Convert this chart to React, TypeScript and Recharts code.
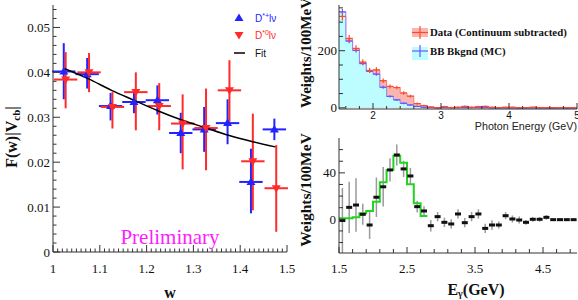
import React from 'react';
import { ComposedChart, XAxis, YAxis, Scatter, ErrorBar, Line, Area } from 'recharts';

const SERIF = '"Liberation Serif", "Times New Roman", serif';
const SANS = '"Liberation Sans", Arial, sans-serif';
const FRAME = '#333';

// ---------- left panel: F(w)|Vcb| vs w ----------
const W_CENTERS = [1.025, 1.075, 1.125, 1.175, 1.225, 1.275, 1.325, 1.375, 1.425, 1.475];
const DPLUS = [0.0402, 0.0396, 0.0325, 0.0334, 0.0338, 0.0265, 0.0273, 0.0287, 0.0156, 0.0273];
const DPLUS_UP = [0.0063, 0.0036, 0.0029, 0.0021, 0.0033, 0.0045, 0.005, 0.0053, 0.0074, 0.0024];
const DPLUS_DN = [0.0062, 0.0032, 0.0032, 0.0025, 0.0032, 0.0045, 0.005, 0.0047, 0.007, 0.0024];
const DZERO = [0.0384, 0.04, 0.0323, 0.0356, 0.0325, 0.0286, 0.0276, 0.036, 0.0202, 0.0142];
const DZERO_UP = [0.0061, 0.0043, 0.0033, 0.0044, 0.0051, 0.0065, 0.0088, 0.0067, 0.0106, 0.0096];
const DZERO_DN = [0.0064, 0.0044, 0.0048, 0.0085, 0.0054, 0.0102, 0.0094, 0.007, 0.0109, 0.0097];
const FIT_W = [1.025, 1.075, 1.125, 1.175, 1.225, 1.275, 1.325, 1.375, 1.425, 1.475];
const FIT_F = [0.0408, 0.0386, 0.036, 0.0337, 0.0314, 0.0294, 0.0277, 0.026, 0.0246, 0.0234];
const W_TICKS = [1, 1.1, 1.2, 1.3, 1.4, 1.5];
const W_LABELS = ['1', '1.1', '1.2', '1.3', '1.4', '1.5'];
const F_TICKS = [0, 0.01, 0.02, 0.03, 0.04, 0.05];
const F_LABELS = ['0', '0.01', '0.02', '0.03', '0.04', '0.05'];

// ---------- top right: photon energy spectrum ----------
const E_EDGES = [1.5, 1.6, 1.7, 1.8, 1.9, 2.0, 2.1, 2.2, 2.3, 2.4, 2.5, 2.6, 2.7, 2.8, 2.9, 3.0, 3.1, 3.2, 3.3, 3.4, 3.5, 3.6, 3.7, 3.8, 3.9, 4.0, 4.1, 4.2, 4.3, 4.4, 4.5, 4.6, 4.7, 4.8, 4.9];
const DATA_W = [320, 243, 208, 160, 131, 133, 95, 75, 71, 52, 41, 15, 8, 3, 0, 4, 1, 2, 5, 2, 4, 5, 2, 1, 2, 2, 0, 1, 2, 1, 1, 0, 1, 0, 1];
const DATA_ERR = [14, 12, 11, 10, 9, 9, 8, 7, 6, 6, 5, 4, 3, 3, 3, 3, 3, 3, 3, 3, 3, 3, 2, 2, 2, 2, 2, 2, 2, 2, 2, 2, 2, 2, 2];
const MC_W = [336, 234, 201, 155, 128, 118, 72, 40, 28, 16, 10, 5, 2, 1, 1, 1, 1, 1, 1, 1, 1, 1, 0, 0, 0, 0, 0, 0, 0, 0, 0, 0, 0, 0, 0];
const MC_ERR = [10, 8, 7, 6, 6, 6, 5, 4, 3, 3, 2, 2, 1, 1, 1, 1, 1, 1, 1, 1, 1, 1, 1, 1, 1, 1, 1, 1, 1, 1, 1, 1, 1, 1, 1];
const PE_TICKS = [2, 3, 4, 5];
const PE_LABELS = ['2', '3', '4', '5'];
const WT_TICKS = [0, 200];
const WT_LABELS = ['0', '200'];

// ---------- bottom right: subtracted signal ----------
const SIG = [-1, 10.3, 12.3, 4.3, -4.9, 19, 28, 42.5, 55.4, 43.4, 37.3, 10.9, 7.2, -5.5, 2.3, -2.6, -4, 4.6, -2.9, 2.3, 4.6, -7.8, -4.9, -4.9, 3.1, 0.3, -0.6, -2.6, 0, 0, 1.7, -0.3, -0.3, -0.3, -0.3];
const SIG_ERR = [28, 22, 23, 9, 12, 17, 17, 10, 9, 7, 7, 5, 4, 5, 4, 4, 4, 4, 4, 4, 4, 4, 4, 3, 3, 3, 3, 2, 2, 2, 2, 1, 1, 1, 1];
const SIGMC_EDGES = [1.5, 1.6, 1.7, 1.8, 1.9, 2.0, 2.1, 2.2, 2.3, 2.4, 2.5, 2.6, 2.7, 2.8];
const SIGMC = [1, 1, 1.7, 5.2, 7.2, 15.2, 31.9, 42.5, 54.8, 48.8, 30.2, 13.8, 2.8, 2.8];
const EG_TICKS = [1.5, 2.5, 3.5, 4.5];
const EG_LABELS = ['1.5', '2.5', '3.5', '4.5'];
const SG_TICKS = [0, 40];
const SG_LABELS = ['0', '40'];

function steps(from: number, to: number, step: number) {
  const out: number[] = [];
  for (let v = from; v <= to + step / 2; v += step) out.push(Math.round(v * 1000) / 1000);
  return out;
}

type Side = 'bottom' | 'top' | 'left' | 'right';
type TickOpts = {
  side: Side;
  majors: number[];
  labels?: string[];
  big?: number;
  small?: number;
  gap?: number;
  font?: string;
  size?: number;
};

// draws inward tick marks (long for majors) and labels outside the frame
function tickRenderer(o: TickOpts) {
  const big = o.big ?? 7;
  const small = o.small ?? 3.5;
  const gap = o.gap ?? 4;
  return (p: any) => {
    const v = p.payload.value;
    const x = p.x;
    const y = p.y;
    const i = o.majors.findIndex((m) => Math.abs(m - v) < 1e-9);
    const len = i >= 0 ? big : small;
    let l = { x1: x, y1: y, x2: x, y2: y - len };
    if (o.side === 'top') l = { x1: x, y1: y, x2: x, y2: y + len };
    if (o.side === 'left') l = { x1: x, y1: y, x2: x + len, y2: y };
    if (o.side === 'right') l = { x1: x, y1: y, x2: x - len, y2: y };
    const lab = i >= 0 && o.labels ? o.labels[i] : null;
    return (
      <g>
        <line {...l} stroke={FRAME} strokeWidth={1} />
        {lab && o.side === 'bottom' && (
          <text x={x} y={y + gap} textAnchor="middle" dominantBaseline="central" fontFamily={o.font} fontSize={o.size} fill="#111">
            {lab}
          </text>
        )}
        {lab && o.side === 'left' && (
          <text x={x - gap} y={y} textAnchor="end" dominantBaseline="central" fontFamily={o.font} fontSize={o.size} fill="#111">
            {lab}
          </text>
        )}
      </g>
    );
  };
}

const axisBase = {
  type: 'number' as const,
  interval: 0 as const,
  tickLine: false,
  tickSize: 0,
  tickMargin: 0,
  allowDataOverflow: true,
  axisLine: { stroke: FRAME },
};

const triUp = (color: string) => (p: any) => (
  <polygon points={`${p.cx},${p.cy - 4.5} ${p.cx - 4.5},${p.cy + 3} ${p.cx + 4.5},${p.cy + 3}`} fill={color} />
);
const triDown = (color: string) => (p: any) => (
  <polygon points={`${p.cx - 4.5},${p.cy - 3} ${p.cx + 4.5},${p.cy - 3} ${p.cx},${p.cy + 4.5}`} fill={color} />
);
const noDot = () => <g />;
const dash = (p: any) => <rect x={p.cx - 3} y={p.cy - 1.5} width={6} height={3} fill="#111" />;

const BLUE = '#2323ff';
const RED = '#ff2a2a';

function FormFactorPanel() {
  const blue = W_CENTERS.map((w, i) => ({ x: w - 0.002, y: DPLUS[i], ex: 0.025, ey: [DPLUS_DN[i], DPLUS_UP[i]] }));
  const red = W_CENTERS.map((w, i) => ({ x: w + 0.002, y: DZERO[i], ex: 0.025, ey: [DZERO_DN[i], DZERO_UP[i]] }));
  const fit = FIT_W.map((w, i) => ({ x: w, y: FIT_F[i] }));
  const wAll = steps(1, 1.5, 0.01);
  const fAll = steps(0, 0.054, 0.002);
  return (
    <ComposedChart width={302} height={300} margin={{ top: 5, right: 15, bottom: 18, left: 0 }}>
      <XAxis xAxisId="b" dataKey="x" domain={[1, 1.5]} ticks={wAll} height={30} {...axisBase}
        tick={tickRenderer({ side: 'bottom', majors: W_TICKS, labels: W_LABELS, gap: 16, font: SERIF, size: 13 })} />
      <XAxis xAxisId="t" orientation="top" dataKey="x" domain={[1, 1.5]} ticks={wAll} height={0} {...axisBase}
        tick={tickRenderer({ side: 'top', majors: W_TICKS })} />
      <YAxis yAxisId="l" domain={[0, 0.055]} ticks={fAll} width={53} {...axisBase}
        tick={tickRenderer({ side: 'left', majors: F_TICKS, labels: F_LABELS, gap: 3, font: SERIF, size: 13 })} />
      <YAxis yAxisId="r" orientation="right" domain={[0, 0.055]} ticks={fAll} width={0} {...axisBase}
        tick={tickRenderer({ side: 'right', majors: F_TICKS })} />
      <Scatter xAxisId="b" yAxisId="l" data={blue} dataKey="y" shape={triUp(BLUE)} isAnimationActive={false}>
        <ErrorBar dataKey="ex" direction="x" width={0} stroke={BLUE} strokeWidth={2} isAnimationActive={false} />
        <ErrorBar dataKey="ey" direction="y" width={0} stroke={BLUE} strokeWidth={2} isAnimationActive={false} />
      </Scatter>
      <Scatter xAxisId="b" yAxisId="l" data={red} dataKey="y" shape={triDown(RED)} isAnimationActive={false}>
        <ErrorBar dataKey="ex" direction="x" width={0} stroke={RED} strokeWidth={2} isAnimationActive={false} />
        <ErrorBar dataKey="ey" direction="y" width={0} stroke={RED} strokeWidth={2} isAnimationActive={false} />
      </Scatter>
      <Line xAxisId="b" yAxisId="l" data={fit} dataKey="y" type="monotone" stroke="#000" strokeWidth={1.5} dot={false} isAnimationActive={false} />
    </ComposedChart>
  );
}

function PhotonPanel() {
  const table = E_EDGES.map((e, i) => ({ x: e, data: DATA_W[i], mc: MC_W[i] }));
  table.push({ x: 5, data: DATA_W[DATA_W.length - 1], mc: MC_W[MC_W.length - 1] });
  const dataPts = E_EDGES.map((e, i) => ({ x: e + 0.05, y: DATA_W[i], ex: 0.05, ey: DATA_ERR[i] }));
  const mcPts = E_EDGES.map((e, i) => ({ x: e + 0.05, y: MC_W[i], ex: 0.05, ey: MC_ERR[i] }));
  const xAll = steps(1.6, 5, 0.2);
  const yAll = steps(0, 350, 50);
  return (
    <ComposedChart width={296} height={135} data={table} margin={{ top: 5, right: 9, bottom: 0, left: 0 }}>
      <XAxis xAxisId="b" dataKey="x" domain={[1.5, 5]} ticks={xAll} height={26} {...axisBase}
        tick={tickRenderer({ side: 'bottom', majors: PE_TICKS, labels: PE_LABELS, gap: 6, font: SANS, size: 10, big: 6, small: 3 })} />
      <XAxis xAxisId="t" orientation="top" dataKey="x" domain={[1.5, 5]} ticks={xAll} height={0} {...axisBase}
        tick={tickRenderer({ side: 'top', majors: PE_TICKS, big: 6, small: 3 })} />
      <YAxis yAxisId="l" domain={[-4, 360]} ticks={yAll} width={49} {...axisBase}
        tick={tickRenderer({ side: 'left', majors: WT_TICKS, labels: WT_LABELS, gap: 2, font: SERIF, size: 13, big: 6, small: 4 })} />
      <YAxis yAxisId="r" orientation="right" domain={[-4, 360]} ticks={yAll} width={0} {...axisBase}
        tick={tickRenderer({ side: 'right', majors: WT_TICKS, big: 6, small: 4 })} />
      <Area xAxisId="b" yAxisId="l" dataKey="data" type="stepAfter" fill="#f9b6b0" fillOpacity={1} stroke="#ff7a6a" strokeWidth={1} isAnimationActive={false} />
      <Area xAxisId="b" yAxisId="l" dataKey="mc" type="stepAfter" fill="#bdfcff" fillOpacity={1} stroke="#8888ff" strokeWidth={1} isAnimationActive={false} />
      <Scatter xAxisId="b" yAxisId="l" data={mcPts} dataKey="y" shape={noDot} isAnimationActive={false}>
        <ErrorBar dataKey="ex" direction="x" width={0} stroke="#6a55ff" strokeWidth={1.2} isAnimationActive={false} />
        <ErrorBar dataKey="ey" direction="y" width={0} stroke="#6a55ff" strokeWidth={1.2} isAnimationActive={false} />
      </Scatter>
      <Scatter xAxisId="b" yAxisId="l" data={dataPts} dataKey="y" shape={noDot} isAnimationActive={false}>
        <ErrorBar dataKey="ex" direction="x" width={0} stroke="#ff4a2a" strokeWidth={1.2} isAnimationActive={false} />
        <ErrorBar dataKey="ey" direction="y" width={0} stroke="#ff4a2a" strokeWidth={1.2} isAnimationActive={false} />
      </Scatter>
    </ComposedChart>
  );
}

function SignalPanel() {
  const pts = E_EDGES.map((e, i) => ({ x: e + 0.05, y: SIG[i], ey: SIG_ERR[i] }));
  const mc = SIGMC_EDGES.map((e, i) => ({ x: e, y: SIGMC[i] }));
  const xAll = steps(1.5, 4.9, 0.2);
  const yAll = steps(-20, 60, 10);
  return (
    <ComposedChart width={296} height={170} margin={{ top: 8, right: 9, bottom: 17, left: 0 }}>
      <XAxis xAxisId="b" dataKey="x" domain={[1.5, 5]} ticks={xAll} height={30} {...axisBase}
        tick={tickRenderer({ side: 'bottom', majors: EG_TICKS, labels: EG_LABELS, gap: 15, font: SERIF, size: 13, big: 6, small: 4 })} />
      <XAxis xAxisId="t" orientation="top" dataKey="x" domain={[1.5, 5]} ticks={xAll} height={0} {...axisBase}
        tick={tickRenderer({ side: 'top', majors: EG_TICKS, big: 6, small: 4 })} />
      <YAxis yAxisId="l" domain={[-29, 70]} ticks={yAll} width={49} {...axisBase}
        tick={tickRenderer({ side: 'left', majors: SG_TICKS, labels: SG_LABELS, gap: 3, font: SERIF, size: 13, big: 6, small: 4 })} />
      <YAxis yAxisId="r" orientation="right" domain={[-29, 70]} ticks={yAll} width={0} {...axisBase}
        tick={tickRenderer({ side: 'right', majors: SG_TICKS, big: 6, small: 4 })} />
      <Scatter xAxisId="b" yAxisId="l" data={pts} dataKey="y" shape={dash} isAnimationActive={false}>
        <ErrorBar dataKey="ey" direction="y" width={0} stroke="#9a9a9a" strokeWidth={1.5} isAnimationActive={false} />
      </Scatter>
      <Line xAxisId="b" yAxisId="l" data={mc} dataKey="y" type="stepAfter" stroke="#22d322" strokeWidth={2} dot={false} isAnimationActive={false} />
    </ComposedChart>
  );
}

function Overlay() {
  const boldSerif = { fontFamily: SERIF, fontWeight: 700 } as const;
  return (
    <svg width={578} height={300} style={{ position: 'absolute', left: 0, top: 0, pointerEvents: 'none' }}>
      {/* left panel labels */}
      <text transform="translate(17,137) rotate(-90)" textAnchor="middle" fontSize={16} {...boldSerif} fill="#111">
        F(w)|V<tspan fontSize={11} dy={3}>cb</tspan><tspan dy={-3}>|</tspan>
      </text>
      <text x={170} y={298} textAnchor="middle" fontSize={16} {...boldSerif} fill="#111">w</text>
      <text x={170} y={244} textAnchor="middle" fontSize={21} fontFamily={SERIF} fill="#ff1aff">Preliminary</text>
      <polygon points="239,13.5 234.5,21 243.5,21" fill={BLUE} />
      <text x={255} y={22} fontFamily={SANS} fontSize={10} fill={BLUE}>
        D<tspan fontSize={7} dy={-4}>*+</tspan><tspan dy={4}>lν</tspan>
      </text>
      <polygon points="234.5,32 243.5,32 239,39.5" fill={RED} />
      <text x={255} y={39} fontFamily={SANS} fontSize={10} fill={RED}>
        D<tspan fontSize={7} dy={-4}>*0</tspan><tspan dy={4}>lν</tspan>
      </text>
      <line x1={234} y1={53} x2={245} y2={53} stroke="#000" strokeWidth={1.5} />
      <text x={255} y={57} fontFamily={SANS} fontSize={10} fill="#111">Fit</text>

      {/* top right labels */}
      <text transform="translate(311,53) rotate(-90)" textAnchor="middle" fontSize={15} {...boldSerif} fill="#111">Weights/100MeV</text>
      <rect x={412} y={28} width={16} height={9} fill="#f9b6b0" />
      <line x1={412} y1={32.5} x2={428} y2={32.5} stroke="#ff4a2a" strokeWidth={1.2} />
      <line x1={420} y1={26} x2={420} y2={39} stroke="#ff4a2a" strokeWidth={1.2} />
      <text x={430} y={36} fontSize={10.8} {...boldSerif} fill="#111">Data (Continuum subtracted)</text>
      <rect x={412} y={47} width={16} height={13} fill="#bdfcff" />
      <line x1={412} y1={51} x2={428} y2={51} stroke="#6a55ff" strokeWidth={1.2} />
      <line x1={420} y1={45} x2={420} y2={57} stroke="#6a55ff" strokeWidth={1.2} />
      <text x={430} y={55} fontSize={10.8} {...boldSerif} fill="#111">BB Bkgnd (MC)</text>
      <text x={577} y={130} textAnchor="end" fontFamily={SANS} fontSize={10.7} fill="#222">Photon Energy (GeV)</text>

      {/* bottom right labels */}
      <text transform="translate(311,190) rotate(-90)" textAnchor="middle" fontSize={15.5} {...boldSerif} fill="#111">Weights/100MeV</text>
      <text x={476} y={295} textAnchor="middle" fontSize={16} {...boldSerif} fill="#111">
        E<tspan fontSize={10} dy={2}>γ</tspan><tspan dy={-2}>(GeV)</tspan>
      </text>
    </svg>
  );
}

export default function App() {
  return (
    <div style={{ position: 'absolute', left: 0, top: 0, width: 578, height: 300, background: '#fff', overflow: 'hidden' }}>
      <div style={{ position: 'absolute', left: 0, top: 0 }}>
        <FormFactorPanel />
      </div>
      <div style={{ position: 'absolute', left: 290, top: 0 }}>
        <PhotonPanel />
      </div>
      <div style={{ position: 'absolute', left: 290, top: 130 }}>
        <SignalPanel />
      </div>
      <Overlay />
    </div>
  );
}
